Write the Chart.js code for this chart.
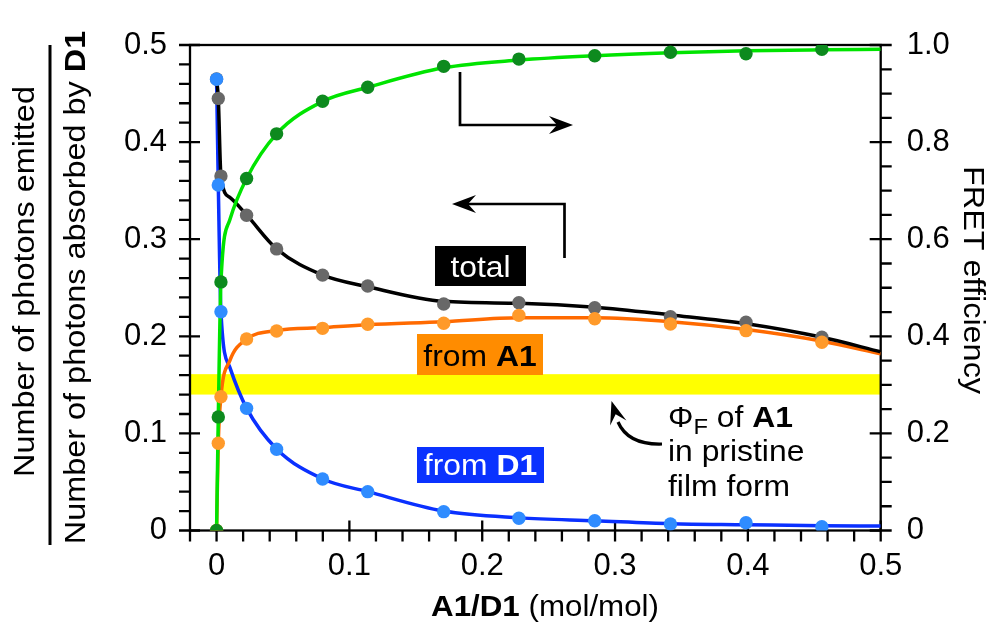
<!DOCTYPE html>
<html>
<head>
<meta charset="utf-8">
<script src="https://cdn.jsdelivr.net/npm/chart.js@4.4.1/dist/chart.umd.min.js"></script>
<style>
  html, body { margin: 0; padding: 0; background: #fff; }
  #chart { display: block; }
</style>
</head>
<body>
<canvas id="chart" width="991" height="624"></canvas>
<script>
const FONT = "'Liberation Sans', Arial, Helvetica, sans-serif";

// measured points, x = A1/D1 (mol/mol)
const ratio      = [0, 0.0013, 0.0033, 0.0226, 0.0452, 0.0798, 0.1138, 0.171, 0.2276, 0.2847, 0.3417, 0.3986, 0.4557];
const totalPts   = [0.465, 0.445, 0.365, 0.3246, 0.290, 0.263, 0.2518, 0.2333, 0.2346, 0.2295, 0.2202, 0.2144, 0.199];
const fromA1Pts  = [0, 0.0898, 0.1378, 0.1972, 0.2055, 0.2082, 0.2124, 0.2134, 0.2216, 0.2181, 0.2127, 0.2058, 0.1938];
const fromD1Pts  = [0.4647, 0.3558, 0.2253, 0.1258, 0.0836, 0.053, 0.040, 0.0194, 0.0126, 0.0101, 0.0067, 0.008, 0.0039];
const fretPts    = [0, 0.234, 0.512, 0.725, 0.817, 0.884, 0.913, 0.956, 0.971, 0.978, 0.985, 0.982, 0.991];

// fitted curves at these ratios
const fitRatio   = [0, 0.0013, 0.0033, 0.010, 0.0226, 0.0452, 0.08, 0.114, 0.171, 0.228, 0.285, 0.342, 0.399, 0.456, 0.5];
const totalFit   = [0.465, 0.445, 0.365, 0.343, 0.325, 0.290, 0.263, 0.251, 0.236, 0.234, 0.230, 0.222, 0.213, 0.199, 0.184];
const fromA1Fit  = [0, 0.090, 0.138, 0.175, 0.197, 0.206, 0.209, 0.212, 0.215, 0.219, 0.219, 0.215, 0.207, 0.195, 0.182];
const fromD1Fit  = [0.465, 0.356, 0.225, 0.168, 0.126, 0.084, 0.053, 0.040, 0.020, 0.013, 0.010, 0.007, 0.006, 0.005, 0.0046];
const fretFit    = [0, 0.234, 0.512, 0.640, 0.725, 0.817, 0.884, 0.913, 0.953, 0.969, 0.978, 0.984, 0.988, 0.990, 0.991];

// yellow band: PhiF of A1 in pristine film
const phiBand = [0.14, 0.161];

const toXY = (xs, ys) => xs.map((x, i) => ({ x, y: ys[i] }));

function fitSet(ys, color, axis) {
    return {
        type: 'line', data: toXY(fitRatio, ys), yAxisID: axis,
        borderColor: color, borderWidth: 3.5, pointRadius: 0,
        cubicInterpolationMode: 'monotone', fill: false, order: 10
    };
}

function dotSet(ys, color, axis, order) {
    return {
        type: 'scatter', data: toXY(ratio, ys), yAxisID: axis, showLine: false,
        backgroundColor: color, borderWidth: 0, pointRadius: 6.7, order
    };
}

// rich text with a slight horizontal stretch (source font is wider than Liberation)
function drawRich(ctx, parts, x, y, opts = {}) {
    const sx = opts.stretch || 1.08;
    ctx.save();
    ctx.translate(x, y);
    if (opts.rotate) ctx.rotate(opts.rotate);
    ctx.scale(sx, 1);
    ctx.textBaseline = 'alphabetic';
    ctx.textAlign = 'left';
    ctx.fillStyle = opts.color || '#000';
    const fontOf = p => `${p.bold ? 'bold ' : ''}${p.size || opts.size || 30}px ${FONT}`;
    let w = 0;
    parts.forEach(p => { ctx.font = fontOf(p); w += ctx.measureText(p.t).width; });
    let cx = opts.align === 'center' ? -w / 2 : 0;
    parts.forEach(p => {
        ctx.font = fontOf(p);
        ctx.fillText(p.t, cx, p.dy || 0);
        cx += ctx.measureText(p.t).width;
    });
    ctx.restore();
}

function arrowHead(ctx, tx, ty, angle, len, half, notch) {
    ctx.save();
    ctx.translate(tx, ty);
    ctx.rotate(angle);
    ctx.beginPath();
    ctx.moveTo(0, 0);
    ctx.lineTo(-len, -half);
    ctx.lineTo(-notch, 0);
    ctx.lineTo(-len, half);
    ctx.closePath();
    ctx.fill();
    ctx.restore();
}

const isMajor = t => t.label !== '' && t.label != null;

const decorPlugin = {
    id: 'decor',
    beforeDatasetsDraw(chart) {
        const { ctx, chartArea: a, scales } = chart;
        const y = scales.y;
        // yellow band
        ctx.save();
        ctx.fillStyle = '#ffff00';
        const yTop = y.getPixelForValue(phiBand[1]), yBot = y.getPixelForValue(phiBand[0]);
        ctx.fillRect(a.left, yTop, a.right - a.left, yBot - yTop);

        // frame
        ctx.strokeStyle = '#000';
        ctx.lineWidth = 2.3;
        ctx.strokeRect(a.left, a.top, a.right - a.left, a.bottom - a.top);

        // tick marks
        ctx.beginPath();
        scales.x.ticks.forEach(t => {
            const px = scales.x.getPixelForValue(t.value);
            ctx.moveTo(px, a.bottom + 11);
            ctx.lineTo(px, a.bottom - (isMajor(t) ? 10 : 0));
        });
        y.ticks.forEach(t => {
            const py = y.getPixelForValue(t.value);
            ctx.moveTo(a.left - 11, py);
            ctx.lineTo(a.left + (isMajor(t) ? 10 : 0), py);
        });
        scales.y2.ticks.forEach(t => {
            const py = scales.y2.getPixelForValue(t.value);
            ctx.moveTo(a.right + 11, py);
            ctx.lineTo(a.right - (isMajor(t) ? 11 : 0), py);
        });
        ctx.stroke();
        ctx.restore();
    },
    afterDatasetsDraw(chart) {
        const { ctx } = chart;
        ctx.save();

        // series labels
        ctx.fillStyle = '#000';
        ctx.fillRect(435, 246, 91, 40);
        drawRich(ctx, [{ t: 'total' }], 480.5, 277, { align: 'center', color: '#fff', size: 29.5 });

        ctx.fillStyle = '#ff8c00';
        ctx.fillRect(417, 334, 126, 41);
        drawRich(ctx, [{ t: 'from ' }, { t: 'A1', bold: true }], 480, 366, { align: 'center', size: 29.5 });

        ctx.fillStyle = '#0a32ff';
        ctx.fillRect(417, 447, 127, 36);
        drawRich(ctx, [{ t: 'from ' }, { t: 'D1', bold: true }], 480.5, 475, { align: 'center', color: '#fff', size: 29.5 });

        // axis pointers
        ctx.strokeStyle = '#000';
        ctx.fillStyle = '#000';
        ctx.lineWidth = 2.7;
        ctx.beginPath();
        ctx.moveTo(460, 72); ctx.lineTo(460, 125); ctx.lineTo(558, 125);
        ctx.moveTo(564.5, 258); ctx.lineTo(564.5, 204); ctx.lineTo(467, 204);
        ctx.stroke();
        arrowHead(ctx, 573, 125, 0, 24, 9, 16);
        arrowHead(ctx, 452, 204, Math.PI, 24, 9, 16);

        // curved arrow to the band
        ctx.beginPath();
        ctx.moveTo(662, 444);
        ctx.quadraticCurveTo(628, 445, 618, 422);
        ctx.lineWidth = 3.2;
        ctx.stroke();
        arrowHead(ctx, 611.5, 401, Math.atan2(-21, -6.5), 23, 8.5, 14);

        // PhiF note
        drawRich(ctx, [{ t: '\u03A6' }, { t: 'F', size: 22, dy: 7 }, { t: ' of ' }, { t: 'A1', bold: true }], 668, 427, { size: 29.5 });
        drawRich(ctx, [{ t: 'in pristine' }], 668, 461, { size: 29.5 });
        drawRich(ctx, [{ t: 'film form' }], 668, 496, { size: 29.5 });

        // axis titles
        drawRich(ctx, [{ t: 'Number of photons emitted' }], 33.5, 281.5, { align: 'center', rotate: -Math.PI / 2, size: 30 });
        drawRich(ctx, [{ t: 'Number of photons absorbed by ' }, { t: 'D1', bold: true }], 85, 287.5, { align: 'center', rotate: -Math.PI / 2, size: 30 });
        ctx.fillStyle = '#000';
        ctx.fillRect(48.5, 45, 3, 500);
        drawRich(ctx, [{ t: 'FRET efficiency' }], 963.5, 280, { align: 'center', rotate: Math.PI / 2, size: 30 });
        drawRich(ctx, [{ t: 'A1/D1', bold: true }, { t: ' (mol/mol)' }], 545, 616, { align: 'center', size: 29 });

        ctx.restore();
    }
};

const tickFont = { family: FONT, size: 31 };
const labelEvery = (v, unit) => Math.abs(v / unit - Math.round(v / unit)) < 1e-6;
const fmt = v => (Math.abs(v) < 1e-9 ? '0' : v.toFixed(1));

new Chart(document.getElementById('chart'), {
    type: 'line',
    data: {
        datasets: [
            fitSet(fretFit, '#00e400', 'y2'),
            fitSet(totalFit, '#000000', 'y'),
            fitSet(fromA1Fit, '#ff6a00', 'y'),
            fitSet(fromD1Fit, '#0a30ff', 'y'),
            dotSet(totalPts, '#686868', 'y', 5),
            dotSet(fromA1Pts, '#ff9a2a', 'y', 4),
            dotSet(fromD1Pts, '#2f8cff', 'y', 3),
            dotSet(fretPts, '#0d8a1e', 'y2', 2)
        ]
    },
    options: {
        responsive: false,
        animation: false,
        devicePixelRatio: 1,
        layout: { padding: { top: 45, left: 0, right: 0, bottom: 0 } },
        plugins: { legend: { display: false }, tooltip: { enabled: false } },
        scales: {
            x: {
                type: 'linear', min: -0.02, max: 0.5,
                grid: { display: false, drawTicks: false }, border: { display: false },
                ticks: {
                    stepSize: 0.02, autoSkip: false, maxRotation: 0, padding: 17,
                    color: '#000', font: tickFont,
                    callback: v => (v >= 0 && labelEvery(v, 0.1) ? fmt(v) : '')
                },
                afterFit: s => { s.height = 93.5; }
            },
            y: {
                position: 'left', min: 0, max: 0.5,
                grid: { display: false, drawTicks: false }, border: { display: false },
                ticks: {
                    stepSize: 0.02, autoSkip: false, padding: 23,
                    color: '#000', font: tickFont,
                    callback: v => (labelEvery(v, 0.1) ? fmt(v) : '')
                },
                afterFit: s => { s.width = 190; }
            },
            y2: {
                position: 'right', min: 0, max: 1,
                grid: { display: false, drawTicks: false }, border: { display: false },
                ticks: {
                    stepSize: 0.05, autoSkip: false, padding: 26,
                    color: '#000', font: tickFont,
                    callback: v => (labelEvery(v, 0.2) ? fmt(v) : '')
                },
                afterFit: s => { s.width = 110.3; }
            }
        }
    },
    plugins: [decorPlugin]
});
</script>
</body>
</html>
